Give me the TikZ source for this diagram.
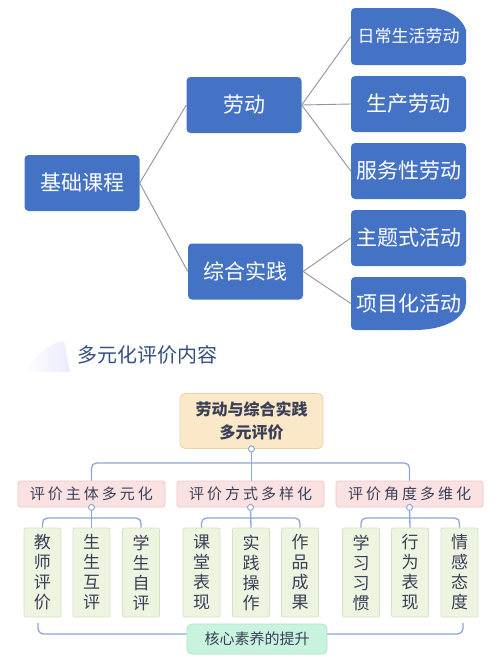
\documentclass[tikz,border=0pt]{standalone}
\usepackage{fontspec}
\setmainfont{Noto Sans CJK SC}
\newcommand\cgap{\hspace{3pt}}
\definecolor{bl}{HTML}{4472C4}
\definecolor{gline}{HTML}{8C95A6}
\definecolor{lc}{HTML}{8EA6D2}
\definecolor{titc}{HTML}{34507F}
\definecolor{darkt}{HTML}{3A3F58}
\definecolor{rootf}{HTML}{FBE8C8}
\definecolor{rootd}{HTML}{EBD3A8}
\definecolor{pinkf}{HTML}{FBE2E2}
\definecolor{pinkd}{HTML}{F2C4C4}
\definecolor{leaff}{HTML}{EDF4E0}
\definecolor{leafd}{HTML}{D5E4C0}
\definecolor{mintf}{HTML}{C8F3DE}
\definecolor{mintd}{HTML}{A9E5C8}
\begin{document}
\begin{tikzpicture}[x=1pt,y=-1pt,
  bluebox/.style={fill=bl, rounded corners=4pt, text=white, minimum width=115pt, minimum height=56pt, inner sep=0pt, font=\fontsize{21}{25}\selectfont},
  bluetext/.style={text=white, minimum width=115pt, inner sep=0pt, font=\fontsize{21}{25}\selectfont},
  conn/.style={draw=gline, line width=0.9pt},
  link/.style={draw=lc, line width=1.3pt},
  rootbox/.style={fill=rootf, draw=rootd, line width=0.8pt, rounded corners=5pt, minimum width=143pt, minimum height=55pt, inner sep=0pt, align=center, text=darkt, font=\fontsize{16}{23}\selectfont\bfseries},
  midbox/.style={fill=pinkf, draw=pinkd, line width=0.8pt, rounded corners=3pt, minimum width=147pt, minimum height=26pt, inner sep=0pt, text=darkt, font=\fontsize{15}{18}\selectfont},
  leaf/.style={fill=leaff, draw=leafd, line width=0.8pt, rounded corners=2pt, minimum width=37pt, minimum height=89pt, inner sep=0pt, align=center, text=darkt, font=\fontsize{17}{20}\selectfont},
  corebox/.style={fill=mintf, draw=mintd, line width=0.8pt, rounded corners=5pt, minimum width=140pt, minimum height=30pt, inner sep=0pt, text=darkt, font=\fontsize{15}{18}\selectfont},
  dot/.style={circle, draw=lc, fill=white, line width=1pt, inner sep=0pt, minimum size=6pt}]
\useasboundingbox (0,0) rectangle (500,667);
\fill[white] (0,0) rectangle (500,667);
% ---------- top tree ----------
\node[bluebox] (jc) at (82,183) {基础课程};
\node[bluebox] (ld) at (244,105) {劳动};
\node[bluebox] (zh) at (245.5,271.5) {综合实践};
\fill[bl, rounded corners=4pt] (351,36) -- (351,8) -- (426,8) {[sharp corners] .. controls (448,8) and (462,18) .. (466,30)} -- (466,65) -- (351,65) -- cycle;
\node[bluetext, minimum height=57pt, font=\fontsize{17}{20}\selectfont] (rc) at (408.5,36.5) {日常生活劳动};
\node[bluebox] (sc) at (408.5,104) {生产劳动};
\node[bluebox] (fw) at (408.5,171) {服务性劳动};
\node[bluebox] (zt) at (408.5,238) {主题式活动};
\fill[bl, rounded corners=4pt] (351,300) -- (351,277) -- (466,277) -- (466,306) {[sharp corners] .. controls (458,322) and (440,330) .. (414,330)} -- (351,330) -- cycle;
\node[bluetext, minimum height=53pt] (xm) at (408.5,303.5) {项目化活动};
\draw[conn] (jc.east) -- (ld.west);
\draw[conn] (jc.east) -- (zh.west);
\draw[conn] (ld.east) -- (rc.west);
\draw[conn] (ld.east) -- (sc.west);
\draw[conn] (ld.east) -- (fw.west);
\draw[conn] (zh.east) -- (zt.west);
\draw[conn] (zh.east) -- (xm.west);
% ---------- title ----------
\shade[left color=white, right color=black!4!blue!8!white] (24,372) .. controls (34,356) and (50,343) .. (64,341) -- (70,372) -- cycle;
\node[anchor=west, inner sep=0pt, text=titc, font=\fontsize{20}{24}\selectfont] (title) at (77,355) {多元化评价内容};
% ---------- bottom tree ----------
\node[rootbox] (root) at (251.5,421) {劳动与综合实践\\多元评价};
\node[midbox] (m1) at (91.5,494) {评\cgap 价\cgap 主\cgap 体\cgap 多\cgap 元\cgap 化};
\node[midbox] (m2) at (250.5,494) {评\cgap 价\cgap 方\cgap 式\cgap 多\cgap 样\cgap 化};
\node[midbox] (m3) at (409.5,494) {评\cgap 价\cgap 角\cgap 度\cgap 多\cgap 维\cgap 化};
\node[leaf] (l1) at (42.5,572.5) {教\\师\\评\\价};
\node[leaf] (l2) at (91.5,572.5) {生\\生\\互\\评};
\node[leaf] (l3) at (141,572.5) {学\\生\\自\\评};
\node[leaf] (l4) at (201.5,572.5) {课\\堂\\表\\现};
\node[leaf] (l5) at (251,572.5) {实\\践\\操\\作};
\node[leaf] (l6) at (300,572.5) {作\\品\\成\\果};
\node[leaf] (l7) at (361,572.5) {学\\习\\习\\惯};
\node[leaf] (l8) at (410,572.5) {行\\为\\表\\现};
\node[leaf] (l9) at (459.5,572.5) {情\\感\\态\\度};
\node[corebox] (core) at (257,639) {核心素养的提升};
\coordinate (bar1) at (0,463);
\coordinate (bar2) at (0,518);
\coordinate (bky) at (0,634);
\coordinate (bl) at (38,623);
\coordinate (br) at (463,623);
\draw[link] (root.south) -- (root.south |- m2.north);
\draw[link, rounded corners=5pt] (m1.north) -- (m1.north |- bar1) -- (m3.north |- bar1) -- (m3.north);
\draw[link] (m1.south) -- (l2.north);
\draw[link, rounded corners=5pt] (l1.north) -- (l1.north |- bar2) -- (l3.north |- bar2) -- (l3.north);
\draw[link] (m2.south) -- (l5.north);
\draw[link, rounded corners=5pt] (l4.north) -- (l4.north |- bar2) -- (l6.north |- bar2) -- (l6.north);
\draw[link] (m3.south) -- (l8.north);
\draw[link, rounded corners=5pt] (l7.north) -- (l7.north |- bar2) -- (l9.north |- bar2) -- (l9.north);
\draw[link, rounded corners=6pt] (bl) -- (bl |- bky) -- (core.west |- bky);
\draw[link, rounded corners=6pt] (core.east |- bky) -- (br |- bky) -- (br);
\node[dot] (d0) at (root.south) {};
\node[dot] (d1) at (m1.south) {};
\node[dot] (d2) at (m2.south) {};
\node[dot] (d3) at (m3.south) {};
\end{tikzpicture}
\end{document}
